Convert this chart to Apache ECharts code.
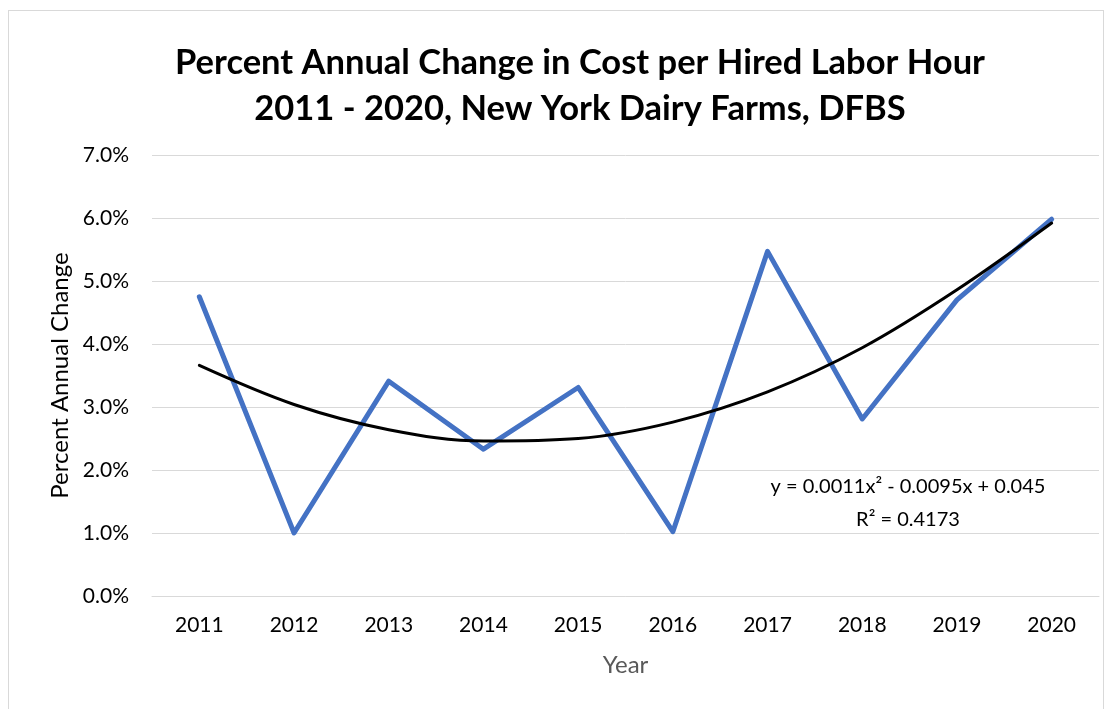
<!DOCTYPE html>
<html>
<head>
<meta charset="utf-8">
<style>
  html, body { margin: 0; padding: 0; background: #fff; }
  #frame { position: absolute; left: 8px; top: 10px; width: 1096px; height: 710px; border: 1px solid #d9d9d9; box-sizing: border-box; }
  #chart { position: absolute; left: 0; top: 0; width: 1114px; height: 709px; }
</style>
<script src="https://cdn.jsdelivr.net/npm/echarts@6/dist/echarts.min.js"></script>
</head>
<body>
<div id="frame"></div>
<div id="chart"></div>
<script>
var years = ['2011', '2012', '2013', '2014', '2015', '2016', '2017', '2018', '2019', '2020'];
var pctChange = [4.75, 1.0, 3.41, 2.33, 3.31, 1.02, 5.47, 2.81, 4.7, 5.98];
// trendline at each year
var trend = [3.66, 3.04, 2.64, 2.46, 2.5, 2.76, 3.24, 3.94, 4.86, 5.92];
var titleLines = ['Percent Annual Change in Cost per Hired Labor Hour', '2011 - 2020, New York Dairy Farms, DFBS'];
var eqLines = ['y = 0.0011x\u00b2 - 0.0095x + 0.045', 'R\u00b2 = 0.4173'];

var font = 'Lato, "Open Sans", sans-serif';
var chart = echarts.init(document.getElementById('chart'));

chart.setOption({
  animation: false,
  textStyle: { fontFamily: font },
  title: {
    text: titleLines.join('\n'),
    left: 575,
    textAlign: 'center',
    top: 35,
    textStyle: { fontFamily: font, fontSize: 34.5, fontWeight: 'bold', color: '#000', lineHeight: 46 }
  },
  grid: { left: 152, right: 15, top: 155, bottom: 113, containLabel: false },
  xAxis: {
    type: 'category',
    data: years,
    boundaryGap: true,
    name: 'Year',
    nameLocation: 'middle',
    nameGap: 57,
    nameTextStyle: { fontFamily: font, fontSize: 24, color: '#595959' },
    axisLine: { show: true, lineStyle: { color: '#d9d9d9', width: 1 } },
    axisTick: { show: false },
    axisLabel: { fontSize: 21, color: '#000', margin: 19 }
  },
  yAxis: {
    type: 'value',
    min: 0,
    max: 7,
    interval: 1,
    name: 'Percent Annual Change',
    nameLocation: 'middle',
    nameGap: 80,
    nameTextStyle: { fontFamily: font, fontSize: 24, color: '#000' },
    axisLine: { show: false },
    axisTick: { show: false },
    splitLine: { lineStyle: { color: '#d9d9d9', width: 1 } },
    axisLabel: {
      fontSize: 21,
      color: '#000',
      margin: 23,
      formatter: function (v) { return v.toFixed(1) + '%'; }
    }
  },
  series: [
    {
      name: 'Percent Annual Change',
      type: 'line',
      data: pctChange,
      symbol: 'none',
      lineStyle: { color: '#4472c4', width: 5, cap: 'round', join: 'round' },
      z: 2
    },
    {
      name: 'Trend',
      type: 'line',
      data: trend,
      smooth: 0.35,
      symbol: 'none',
      lineStyle: { color: '#000', width: 3, cap: 'round' },
      z: 3
    }
  ],
  graphic: [
    {
      type: 'text',
      x: 908,
      y: 487,
      style: {
        text: eqLines[0],
        fontFamily: font,
        fontSize: 20,
        fill: '#000',
        align: 'center',
        verticalAlign: 'middle'
      }
    },
    {
      type: 'text',
      x: 908,
      y: 520,
      style: {
        text: eqLines[1],
        fontFamily: font,
        fontSize: 20,
        fill: '#000',
        align: 'center',
        verticalAlign: 'middle'
      }
    }
  ]
});
</script>
</body>
</html>
